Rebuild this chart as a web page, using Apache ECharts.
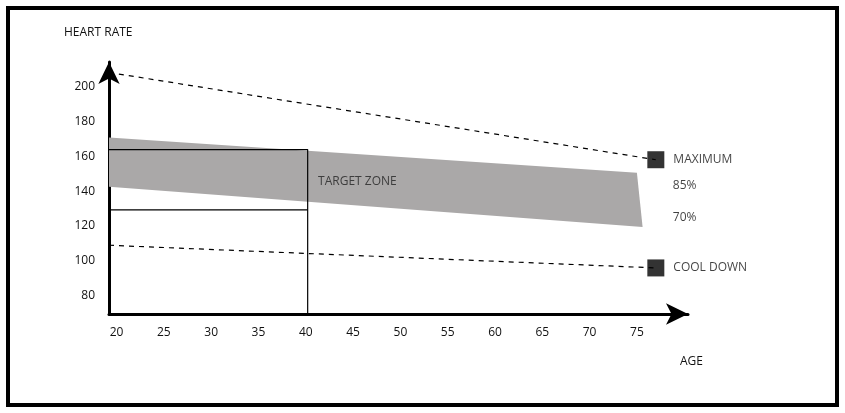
<!DOCTYPE html>
<html><head><meta charset="utf-8">
<script src="https://cdn.jsdelivr.net/npm/echarts@6/dist/echarts.min.js"></script>
<style>html,body{margin:0;background:#fff}#c{width:845px;height:413px}</style>
</head><body><div id="c"></div>
<script>
const ageTicks = [20, 25, 30, 35, 40, 45, 50, 55, 60, 65, 70, 75]
const rateTicks = [80, 100, 120, 140, 160, 180, 200]
// dashed lines [age, rate]
const maxLine = [[19.2, 208], [77, 158]]
const coolLine = [[19.2, 109], [77, 96]]
// target band polygon
const bandPoly = [[19.2, 170.7], [75, 150.5], [75.6, 119.5], [19.2, 142.5]]
// rectangle up to age 40
const rectLine = [[19.2, 163.8], [40.2, 163.8], [40.2, 69.6]]
const midLine = [[19.2, 129.3], [40.2, 129.3]]
const markers = [['MAXIMUM', 77, 158], ['COOL DOWN', 77, 96]]
const pctLabels = [['85%', 78.8, 143], ['70%', 78.8, 125]]

let mychart = echarts.init(document.getElementById('c'))
const font = 'Open Sans'
let option = {
  animation: false,
  textStyle: { fontFamily: font },
  grid: { left: 109, right: 157, top: 62, bottom: 99 },
  graphic: [{
    type: 'rect', shape: { x: 8, y: 8, width: 829, height: 397 },
    style: { fill: 'none', stroke: '#000', lineWidth: 4 }
  }, {
    type: 'text', left: 64, top: 27,
    style: { text: 'HEART RATE', font: '12px "Open Sans"', fill: '#111' }
  }],
  xAxis: {
    type: 'value', min: 19.2, max: 80.4,
    name: 'AGE', nameLocation: 'end', nameGap: -8,
    nameTextStyle: { color: '#111', fontSize: 12, padding: [42, 0, 0, 0], verticalAlign: 'top' },
    axisLine: { lineStyle: { color: '#000', width: 3 }, symbol: ['none', 'arrow'], symbolSize: [16, 22] },
    axisTick: { show: false },
    splitLine: { show: false },
    axisLabel: { customValues: ageTicks, color: '#111', fontSize: 12, margin: 13 }
  },
  yAxis: {
    type: 'value', min: 69.6, max: 214,
    axisLine: { show: true, lineStyle: { color: '#000', width: 3 }, symbol: ['none', 'arrow'], symbolSize: [16, 22] },
    axisTick: { show: false },
    splitLine: { show: false },
    axisLabel: { customValues: rateTicks, color: '#111', fontSize: 12, margin: 14 }
  },
  series: [{
    type: 'custom', z: 1,
    renderItem: function (params, api) {
      return {
        type: 'polygon',
        shape: { points: bandPoly.map(p => api.coord(p)) },
        style: { fill: '#aaa8a8' }
      }
    },
    data: [0]
  }, {
    type: 'line', data: maxLine, symbol: 'none', z: 3,
    lineStyle: { color: '#000', width: 1.2, type: [5, 5] }
  }, {
    type: 'line', data: coolLine, symbol: 'none', z: 3,
    lineStyle: { color: '#000', width: 1.2, type: [5, 5] }
  }, {
    type: 'line', data: rectLine, symbol: 'none', z: 4,
    lineStyle: { color: '#000', width: 1.2 }
  }, {
    type: 'line', data: midLine, symbol: 'none', z: 4,
    lineStyle: { color: '#000', width: 1.2 }
  }, {
    type: 'scatter', symbol: 'rect', symbolSize: 17, z: 5,
    itemStyle: { color: '#000' },
    data: markers.map(m => ({ value: [m[1], m[2]], name: m[0] })),
    label: { show: true, position: 'right', distance: 9, formatter: '{b}', color: '#111', fontSize: 12 }
  }, {
    type: 'scatter', symbolSize: 0, z: 5,
    data: pctLabels.map(m => ({ value: [m[1], m[2]], name: m[0] })),
    label: { show: true, position: 'right', distance: 0, formatter: '{b}', color: '#111', fontSize: 12 }
  }, {
    type: 'scatter', symbolSize: 0, z: 5,
    data: [{ value: [41.3, 145.4], name: 'TARGET ZONE' }],
    label: { show: true, position: 'right', distance: 0, formatter: '{b}', color: '#222', fontSize: 12 }
  }]
}
mychart.setOption(option)
</script></body></html>
